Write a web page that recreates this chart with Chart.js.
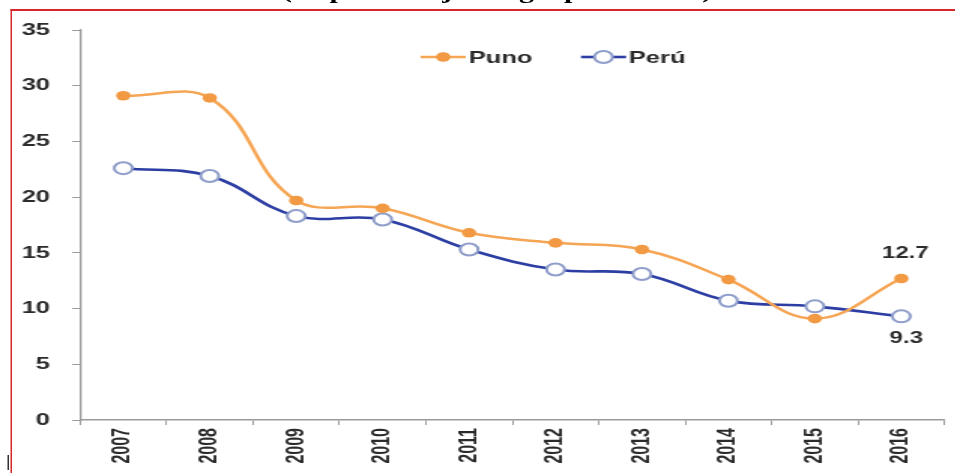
<!DOCTYPE html>
<html>
<head>
<meta charset="utf-8">
<script src="https://cdn.jsdelivr.net/npm/chart.js@4.4.1/dist/chart.umd.min.js"></script>
<style>
  html, body { margin: 0; padding: 0; background: #fff; overflow: hidden; }
  body { width: 955px; height: 473px; position: relative; }
  #stage { position: absolute; left: 0; top: 0; width: 636.67px; height: 473px;
           transform: scaleX(1.5); transform-origin: 0 0; overflow: visible; }
  #title { position: absolute; left: 188px; top: -19px; white-space: nowrap;
           font-family: "Liberation Serif", serif; font-weight: bold; font-size: 20px; line-height: 20px; color: #000; }
  #frame { position: absolute; left: 7.3px; top: 9px; right: -10px; bottom: -10px;
           border-left: 1.4px solid #d8262b; border-top: 2px solid #d8262b; background: #fff; }
  #wrap { position: absolute; left: 0; top: 0; width: 636.67px; height: 473px; }
  #mark { position: absolute; left: 5.3px; top: 455px; width: 0.8px; height: 15px; background: #333; }
</style>
</head>
<body>
<div id="stage">
  <div id="title">(en porcentaje del grupo de edad)</div>
  <div id="frame"></div>
  <div id="mark"></div>
  <div id="wrap"><canvas id="c"></canvas></div>
</div>
<script>
const categories = ['2007', '2008', '2009', '2010', '2011', '2012', '2013', '2014', '2015', '2016'];
const punoValues = [29.1, 28.9, 19.7, 19.0, 16.8, 15.9, 15.3, 12.6, 9.1, 12.7];
const peruValues = [22.6, 21.9, 18.3, 18.0, 15.3, 13.5, 13.1, 10.7, 10.2, 9.3];
const seriesNames = ['Puno', 'Perú'];
const yMin = 0, yMax = 35, yStep = 5;

const ORANGE = '#f5a553';
const ORANGE_DOT = '#f29a43';
const BLUE = '#2c3ea3';
const BLUE_RING = '#8e9dc9';
const TXT = '#2b2b2b';

const legendPlugin = {
  id: 'customLegend',
  afterDraw(chart) {
    const ctx = chart.ctx;
    const y = 57;
    const items = [
      { ds: chart.data.datasets[0], x0: 280, x1: 310, text: 312 },
      { ds: chart.data.datasets[1], x0: 386.7, x1: 416.7, text: 418.5 }
    ];
    ctx.save();
    items.forEach(it => {
      const ds = it.ds;
      ctx.beginPath();
      ctx.strokeStyle = ds.borderColor;
      ctx.lineWidth = ds.borderWidth;
      ctx.moveTo(it.x0, y); ctx.lineTo(it.x1, y);
      ctx.stroke();
      ctx.beginPath();
      ctx.arc((it.x0 + it.x1) / 2, y, ds.pointRadius, 0, Math.PI * 2);
      ctx.fillStyle = ds.pointBackgroundColor;
      ctx.fill();
      if (ds.pointBorderWidth > 0) {
        ctx.lineWidth = ds.pointBorderWidth;
        ctx.strokeStyle = ds.pointBorderColor;
        ctx.stroke();
      }
      ctx.fillStyle = TXT;
      ctx.font = 'bold 17px "Liberation Sans", Arial, sans-serif';
      ctx.textAlign = 'left';
      ctx.textBaseline = 'middle';
      ctx.fillText(ds.label, it.text, y + 1);
    });
    ctx.restore();
  }
};

const lastLabelPlugin = {
  id: 'lastLabels',
  afterDatasetsDraw(chart) {
    const ctx = chart.ctx;
    ctx.save();
    ctx.font = 'bold 16px "Liberation Sans", Arial, sans-serif';
    ctx.fillStyle = TXT;
    ctx.textAlign = 'center';
    ctx.textBaseline = 'middle';
    const n = categories.length - 1;
    const p0 = chart.getDatasetMeta(0).data[n];
    ctx.fillText(punoValues[n].toFixed(1), p0.x + 2.7, p0.y - 25);
    const p1 = chart.getDatasetMeta(1).data[n];
    ctx.fillText(peruValues[n].toFixed(1), p1.x + 3.3, p1.y + 22);
    ctx.restore();
  }
};

new Chart(document.getElementById('c'), {
  type: 'line',
  data: {
    labels: categories,
    datasets: [
      {
        label: seriesNames[0],
        data: punoValues,
        borderColor: ORANGE,
        borderWidth: 2.5,
        tension: 0.4,
        pointRadius: 4.8,
        pointBackgroundColor: ORANGE_DOT,
        pointBorderColor: ORANGE_DOT,
        pointBorderWidth: 0,
        fill: false
      },
      {
        label: seriesNames[1],
        data: peruValues,
        borderColor: BLUE,
        borderWidth: 2.6,
        tension: 0.4,
        pointRadius: 6,
        pointBackgroundColor: '#ffffff',
        pointBorderColor: BLUE_RING,
        pointBorderWidth: 2,
        fill: false
      }
    ]
  },
  options: {
    responsive: true,
    maintainAspectRatio: false,
    animation: false,
    devicePixelRatio: 1,
    layout: { padding: { left: 0, top: 30, right: 2, bottom: 0 } },
    plugins: {
      legend: { display: false },
      title: { display: false },
      tooltip: { enabled: false }
    },
    scales: {
      x: {
        type: 'category',
        offset: true,
        grid: { offset: true, drawOnChartArea: false, drawTicks: true, tickLength: 5, color: '#9a9a9a', lineWidth: 1 },
        border: { display: true, color: '#9a9a9a', width: 1.5 },
        ticks: {
          minRotation: 90, maxRotation: 90, padding: 3, autoSkip: false,
          color: TXT,
          font: { family: '"Liberation Sans", Arial, sans-serif', size: 16, weight: 'bold' }
        },
        afterFit(scale) { scale.height = 53; }
      },
      y: {
        min: yMin, max: yMax,
        grid: { drawOnChartArea: false, drawTicks: true, tickLength: 5.3, color: '#9a9a9a', lineWidth: 1 },
        border: { display: true, color: '#9a9a9a', width: 1.3 },
        ticks: {
          stepSize: yStep, padding: 14.7,
          color: TXT,
          font: { family: '"Liberation Sans", Arial, sans-serif', size: 17, weight: 'bold' }
        },
        afterFit(scale) { scale.width = 53.3; }
      }
    }
  },
  plugins: [legendPlugin, lastLabelPlugin]
});
</script>
</body>
</html>
